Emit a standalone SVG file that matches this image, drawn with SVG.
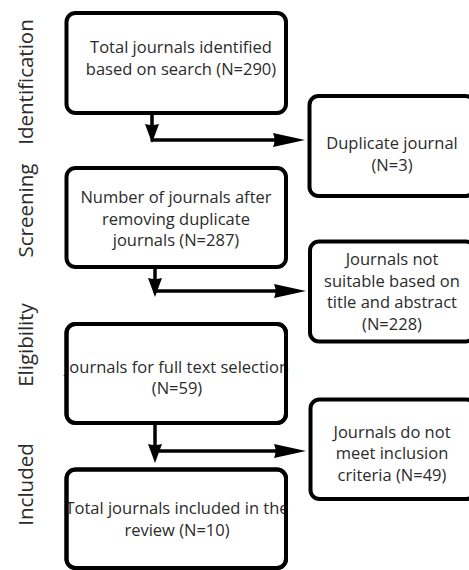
<svg xmlns="http://www.w3.org/2000/svg" width="469" height="570" viewBox="0 0 469 570">
<defs>
<style>
.box{fill:#ffffff;stroke:#000000;stroke-width:4}
.edge{fill:none;stroke:#000000;stroke-width:3.5}
.t{font-family:"Open Sans","Liberation Sans",sans-serif;font-size:16.5px;fill:#2b2b2b;text-anchor:middle}
.lab{font-family:"Open Sans","Liberation Sans",sans-serif;font-size:20.5px;fill:#2b2b2b;text-anchor:middle}
</style>
<marker id="hh" markerUnits="userSpaceOnUse" markerWidth="34" markerHeight="18" refX="22" refY="9" orient="auto" overflow="visible">
<path d="M0,2 Q3,9 0,16 L32,9 Z" fill="#000000"/>
</marker>
<marker id="vh" markerUnits="userSpaceOnUse" markerWidth="21" markerHeight="18" refX="9" refY="9" orient="auto" overflow="visible">
<path d="M0,2 Q2,9 0,16 L19,9 Z" fill="#000000"/>
</marker>
</defs>
<rect width="469" height="570" fill="#ffffff"/>

<g id="stage-labels">
<text class="lab" transform="translate(33,82) rotate(-90)">Identification</text>
<text class="lab" transform="translate(33,210.5) rotate(-90)">Screening</text>
<text class="lab" transform="translate(33,345) rotate(-90)">Eligibility</text>
<text class="lab" transform="translate(33,484.5) rotate(-90)">Included</text>
</g>

<g id="connectors">
<path class="edge" d="M152,113 V133" marker-end="url(#vh)"/>
<path class="edge" d="M150.5,140 H295" marker-end="url(#hh)"/>
<path class="edge" d="M155,267 V287" marker-end="url(#vh)"/>
<path class="edge" d="M153.5,291 H296" marker-end="url(#hh)"/>
<path class="edge" d="M155,423 V453" marker-end="url(#vh)"/>
<path class="edge" d="M153.5,451 H296" marker-end="url(#hh)"/>
</g>

<g id="n1">
<rect class="box" x="66.5" y="13" width="219.5" height="100" rx="9"/>
<text class="t" x="181" y="53">Total journals identified</text>
<text class="t" x="181" y="74.5">based on search (N=290)</text>
</g>

<g id="n2">
<rect class="box" x="66.5" y="168" width="219.5" height="99" rx="9"/>
<text class="t" x="176" y="203">Number of journals after</text>
<text class="t" x="176" y="224.5">removing duplicate</text>
<text class="t" x="176" y="246">journals (N=287)</text>
</g>

<g id="n3">
<rect class="box" x="66.5" y="324" width="219.5" height="99" rx="9"/>
<text class="t" x="177" y="372.5">Journals for full text selection</text>
<text class="t" x="177" y="394">(N=59)</text>
<rect x="66.5" y="324" width="219.5" height="99" rx="9" fill="none" stroke="#000000" stroke-width="4"/>
</g>

<g id="n4">
<rect class="box" x="66.5" y="469.5" width="219.5" height="98.5" rx="9"/>
<text class="t" x="177" y="514">Total journals included in the</text>
<text class="t" x="177" y="535.5">review (N=10)</text>
<rect x="66.5" y="469.5" width="219.5" height="98.5" rx="9" fill="none" stroke="#000000" stroke-width="4"/>
</g>

<g id="r1">
<rect class="box" x="309.5" y="96" width="165" height="100" rx="9"/>
<text class="t" x="392" y="149">Duplicate journal</text>
<text class="t" x="392" y="170.5">(N=3)</text>
</g>

<g id="r2">
<rect class="box" x="310" y="241.5" width="165" height="100" rx="9"/>
<text class="t" x="392" y="265">Journals not</text>
<text class="t" x="392" y="286.7">suitable based on</text>
<text class="t" x="392" y="308.4">title and abstract</text>
<text class="t" x="392" y="330.1">(N=228)</text>
</g>

<g id="r3">
<rect class="box" x="310.5" y="399.5" width="165" height="99.5" rx="9"/>
<text class="t" x="392" y="437.5">Journals do not</text>
<text class="t" x="392" y="459">meet inclusion</text>
<text class="t" x="392" y="480.5">criteria (N=49)</text>
</g>
</svg>
